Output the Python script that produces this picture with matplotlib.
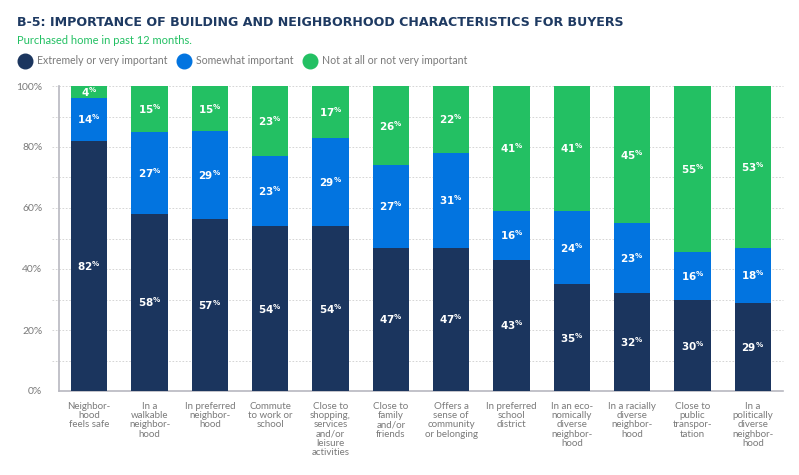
import matplotlib
matplotlib.use("Agg")
import matplotlib.pyplot as plt
from matplotlib.lines import Line2D
import numpy as np

# B-5 importance of building / neighborhood characteristics
categories = [
    "Neighbor-\nhood\nfeels safe",
    "In a\nwalkable\nneighbor-\nhood",
    "In preferred\nneighbor-\nhood",
    "Commute\nto work or\nschool",
    "Close to\nshopping,\nservices\nand/or\nleisure\nactivities",
    "Close to\nfamily\nand/or\nfriends",
    "Offers a\nsense of\ncommunity\nor belonging",
    "In preferred\nschool\ndistrict",
    "In an eco-\nnomically\ndiverse\nneighbor-\nhood",
    "In a racially\ndiverse\nneighbor-\nhood",
    "Close to\npublic\ntranspor-\ntation",
    "In a\npolitically\ndiverse\nneighbor-\nhood",
]
very_important = [82, 58, 57, 54, 54, 47, 47, 43, 35, 32, 30, 29]
somewhat_important = [14, 27, 29, 23, 29, 27, 31, 16, 24, 23, 16, 18]
not_important = [4, 15, 15, 23, 17, 26, 22, 41, 41, 45, 55, 53]
series_names = ["Extremely or very important", "Somewhat important",
                "Not at all or not very important"]
yticks = [0, 20, 40, 60, 80, 100]

navy = "#1b355e"
blue = "#0274e0"
green = "#23c063"
gray_txt = "#7a7a7a"

plt.rcParams["font.family"] = "Lato"
plt.rcParams["mathtext.default"] = "regular"

fig = plt.figure(figsize=(7.99, 4.75), dpi=100)
ax = fig.add_axes([59 / 799, 1 - 391 / 475, (783 - 59) / 799, (391 - 86) / 475])

x = np.arange(len(categories))
series = [very_important, somewhat_important, not_important]
colors = [navy, blue, green]
# each bar is scaled to fill 100% (rounded shares can add up to 101)
totals = np.sum(series, axis=0)
bottom = np.zeros(len(categories))
for vals, c in zip(series, colors):
    raw = np.array(vals, dtype=float)
    h = raw / totals * 100
    ax.bar(x, h, bottom=bottom, width=0.6, color=c, zorder=3)
    for xi, b, hv, v in zip(x, bottom, h, raw):
        ax.text(xi, b + hv / 2, f"{int(v)}$^{{\\%}}$", ha="center", va="center",
                color="white", fontsize=7.5, fontweight="bold", zorder=4,
                family="DejaVu Sans")
    bottom += h

ax.set_xlim(-0.5, len(categories) - 0.5)
ax.set_ylim(0, 100)

# dashed guides every 10%
for v in range(10, 101, 10):
    ax.axhline(v, xmin=-0.009, xmax=1, color="#cfcfcf", lw=0.6,
               ls=(0, (2, 2)), clip_on=False, zorder=1)

ax.set_yticks(yticks)
ax.set_yticklabels([f"{t}%" for t in yticks])
ax.tick_params(axis="y", length=0, pad=12, labelsize=7.5, labelcolor=gray_txt)
ax.set_xticks(x)
ax.set_xticklabels(categories, fontsize=7, color=gray_txt, linespacing=1.02,
                   va="top")
ax.tick_params(axis="x", length=0, pad=8)

for s in ["top", "right"]:
    ax.spines[s].set_visible(False)
ax.spines["left"].set_color("#b8b8c0")
ax.spines["bottom"].set_color("#b8b8c0")
ax.spines["left"].set_linewidth(1.2)
ax.spines["bottom"].set_linewidth(1.2)

fig.text(17 / 799, 1 - 22 / 475,
         "B-5: IMPORTANCE OF BUILDING AND NEIGHBORHOOD CHARACTERISTICS FOR BUYERS",
         fontsize=9.1, fontweight="bold", color="#1e3a62", va="center",
         family="DejaVu Sans")
fig.text(17 / 799, 1 - 40 / 475, "Purchased home in past 12 months.",
         fontsize=8, color=green, va="center")

# legend row
leg_x = [25, 184, 310]
for lx, name, c in zip(leg_x, series_names, colors):
    fig.add_artist(Line2D([lx / 799], [1 - 61 / 475], marker="o", markersize=10.5,
                          color=c, transform=fig.transFigure))
    fig.text((lx + 12) / 799, 1 - 61 / 475, name, fontsize=7.6, color=gray_txt,
             va="center")

fig.savefig("out.png", dpi=100)
